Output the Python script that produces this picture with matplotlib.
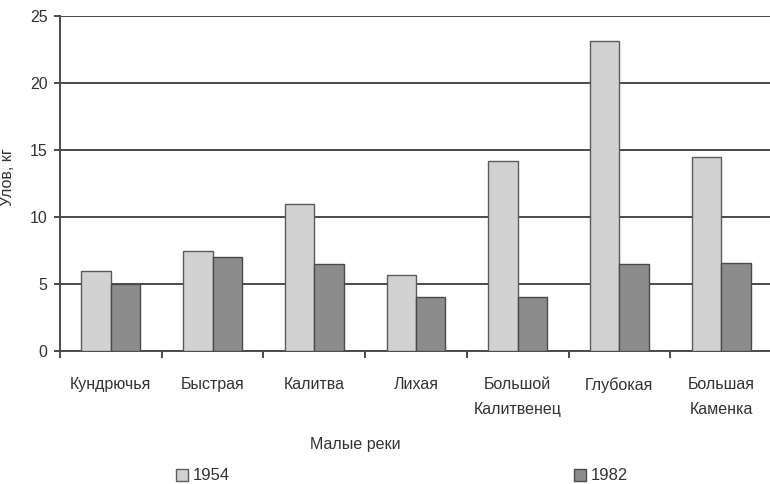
import numpy as np
import matplotlib.pyplot as plt
from matplotlib.patches import Patch

rivers = ['Кундрючья', 'Быстрая', 'Калитва', 'Лихая',
          'Большой\nКалитвенец', 'Глубокая', 'Большая\nКаменка']
catch_1954 = [6.0, 7.5, 11.0, 5.7, 14.2, 23.1, 14.5]
catch_1982 = [5.0, 7.0, 6.5, 4.0, 4.0, 6.5, 6.6]
years = ['1954', '1982']

plt.rcParams['font.family'] = ['Liberation Sans Narrow', 'Liberation Sans', 'DejaVu Sans']

c_light = '#d2d2d2'
c_dark = '#8c8c8c'
c_line = '#4a4a4a'

fig = plt.figure(figsize=(7.7, 4.84), dpi=100)
ax = fig.add_axes([60 / 770, 133 / 484, 712 / 770, 335 / 484])

x = np.arange(len(rivers))
w = 0.29
ax.bar(x - w / 2, catch_1954, w, color=c_light, edgecolor='#5a5a5a', linewidth=1.0, zorder=3)
ax.bar(x + w / 2, catch_1982, w, color=c_dark, edgecolor='#4a4a4a', linewidth=1.0, zorder=3)

ax.set_xlim(-0.5, len(rivers) - 0.5)
ax.set_ylim(0, 25)
ax.set_yticks(range(0, 26, 5))
ax.yaxis.grid(True, color=c_line, linewidth=1.4, zorder=1)
ax.set_axisbelow(True)

for s in ['top', 'right']:
    ax.spines[s].set_visible(False)
for s in ['left', 'bottom']:
    ax.spines[s].set_color(c_line)
    ax.spines[s].set_linewidth(1.4)

ax.set_xticks(x)
ax.set_xticklabels(rivers, fontsize=11.5, color='#333333', linespacing=1.8, va='top')
ax.tick_params(axis='x', which='major', length=0, pad=19)
ax.set_xticks(np.arange(-0.5, len(rivers)), minor=True)
ax.tick_params(axis='x', which='minor', length=5, width=1.4, color=c_line, direction='out')
ax.tick_params(axis='y', length=4, width=1.4, color=c_line, labelsize=11.5, labelcolor='#333333', pad=5)

ax.set_ylabel('Улов, кг', fontsize=11.5, color='#333333')
ax.yaxis.set_label_coords(-0.063, 0.52)
fig.text(355 / 770, 1 - 445 / 484, 'Малые реки', fontsize=11.5, color='#333333',
         ha='center', va='center')

handles = [Patch(facecolor=c_light, edgecolor='#5a5a5a'),
           Patch(facecolor=c_dark, edgecolor='#4a4a4a')]
fig.legend(handles, years, loc='center', bbox_to_anchor=(402 / 770, 1 - 476 / 484),
           ncol=2, frameon=False, fontsize=12, handlelength=0.75, handleheight=0.75,
           handletextpad=0.3, columnspacing=20.6, labelcolor='#333333')

fig.savefig('out.png', dpi=100)
